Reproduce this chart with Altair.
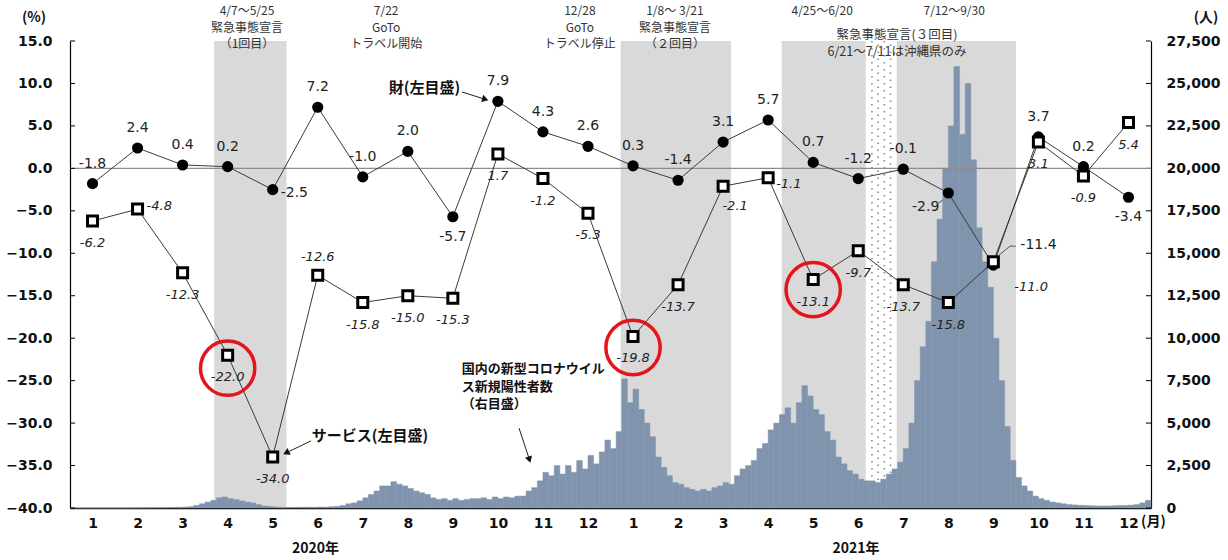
import calendar
import altair as alt
import pandas as pd
import numpy as np

# ---------------- data ----------------
goods = [-1.8, 2.4, 0.4, 0.2, -2.5, 7.2, -1.0, 2.0, -5.7, 7.9, 4.3, 2.6,
         0.3, -1.4, 3.1, 5.7, 0.7, -1.2, -0.1, -2.9, -11.4, 3.7, 0.2, -3.4]
services = [-6.2, -4.8, -12.3, -22.0, -34.0, -12.6, -15.8, -15.0, -15.3, 1.7, -1.2, -5.3,
            -19.8, -13.7, -2.1, -1.1, -13.1, -9.7, -13.7, -15.8, -11.0, 3.1, -0.9, 5.4]

# new positive cases (persons), 8 readings per month
cases_2020 = [
    0, 0, 0, 0, 0, 0, 0, 0,                       # Jan
    0, 0, 0, 5, 5, 10, 15, 20,                    # Feb
    20, 30, 40, 40, 60, 80, 150, 250,             # Mar
    350, 450, 600, 650, 550, 500, 420, 350,       # Apr
    300, 200, 120, 90, 60, 40, 30, 40,            # May
    40, 40, 50, 40, 60, 50, 80, 100,              # Jun
    150, 250, 300, 420, 600, 800, 1000, 1300,     # Jul
    1300, 1550, 1400, 1300, 1150, 1000, 900, 800, # Aug
    600, 500, 550, 450, 550, 450, 500, 550,       # Sep
    550, 600, 500, 650, 550, 650, 600, 700,       # Oct
    700, 1000, 1200, 1600, 2100, 1900, 2500, 2000,   # Nov
    2500, 2100, 2800, 2300, 3100, 2600, 3300, 4000,  # Dec
]
cases_2021 = [
    3500, 4500, 7600, 6200, 7000, 5800, 5000, 4200,        # Jan
    3000, 2400, 1900, 1500, 1400, 1200, 1100, 1000,        # Feb
    1100, 1000, 1200, 1300, 1500, 1400, 1900, 2300,        # Mar
    2500, 2800, 3500, 3800, 4600, 5000, 5500, 5900,        # Apr
    5000, 6200, 7200, 6600, 5800, 5500, 4500, 4000,        # May
    3000, 2600, 2200, 2000, 1700, 1600, 1600, 1500,        # Jun
    1700, 2000, 2300, 2700, 3500, 5000, 7500, 9500,        # Jul
    11000, 14500, 17000, 20000, 22500, 26000, 22000, 25000,  # Aug
    20500, 16500, 14500, 13000, 10000, 7500, 4800, 2800,   # Sep
    1800, 1300, 1000, 700, 550, 450, 350, 300,             # Oct
    250, 200, 180, 160, 150, 130, 120, 120,                # Nov
    120, 130, 150, 150, 170, 200, 300, 450,                # Dec
]

left_ticks = [-40, -35, -30, -25, -20, -15, -10, -5, 0, 5, 10, 15]
right_ticks = [0, 2500, 5000, 7500, 10000, 12500, 15000, 17500, 20000, 22500, 25000, 27500]
years = ["2020年", "2021年"]

emergency_periods = [("2020-04-07", "2020-05-25"), ("2021-01-08", "2021-03-21"),
                     ("2021-04-25", "2021-06-20"), ("2021-07-12", "2021-09-30")]
okinawa_period = ("2021-06-21", "2021-07-11")
highlight_idx = [3, 12, 16]

# ---------------- label placement (style) ----------------
goods_place = ['a', 'a', 'a', 'a', 'r', 'a', 'a', 'a', 'b', 'a', 'a', 'a',
               'a', 'a', 'a', 'a', 'a', 'a', 'a', 'l', 'r2', 'a', 'a', 'b']
serv_place = ['b', 'r', 'b', 'b', 'b', 'a', 'b', 'b', 'b', 'b', 'b', 'b',
              'b', 'b', 'br', 'r1', 'b', 'b', 'b', 'b', 'r3', 'b', 'b', 'b']
goods_style = {
    'a': dict(dx=0, dy=-20, align='center'),
    'b': dict(dx=0, dy=20, align='center'),
    'r': dict(dx=8, dy=3, align='left'),
    'l': dict(dx=-9, dy=14, align='right'),
    'r2': dict(dx=27, dy=-20, align='left'),
}
serv_style = {
    'b': dict(dx=0, dy=22, align='center'),
    'a': dict(dx=0, dy=-18, align='center'),
    'r': dict(dx=9, dy=-3, align='left'),
    'r1': dict(dx=8, dy=6, align='left'),
    'br': dict(dx=12, dy=20, align='center'),
    'r3': dict(dx=21, dy=25, align='left'),
}
circle_off_px = [13, 11, 10]

W, H = 1081, 467
JP = "Noto Sans CJK JP"
NUM = "DejaVu Sans"
BAR = '#8094ae'


def mpos(s, end=False):
    y, m, d = map(int, s.split('-'))
    idx = (y - 2020) * 12 + (m - 1)
    nd = calendar.monthrange(y, m)[1]
    return idx + (d if end else d - 1) / nd


xs = alt.Scale(domain=[0, 24], nice=False, zero=False)
yls = alt.Scale(domain=[-40, 15], nice=False, zero=False)
yrs = alt.Scale(domain=[0, 27500], nice=False, zero=False)

x_axis = alt.Axis(values=[i + 0.5 for i in range(24)], labelExpr="floor(datum.value) % 12 + 1",
                  ticks=False, grid=False, domainColor='black', domainWidth=1.5,
                  labelFont=NUM, labelFontWeight='bold', labelFontSize=14, labelColor='#111',
                  labelPadding=8, labelAngle=0, labelFlush=False, labelOverlap=False, title=None)
left_axis = alt.Axis(orient='left', values=left_ticks, format='.1f', ticks=False, grid=False,
                     domainColor='black', domainWidth=1.2, labelFont=NUM, labelFontWeight='bold',
                     labelFontSize=14, labelColor='#111', labelPadding=18, labelFlush=False, title=None)
right_axis = alt.Axis(orient='right', values=right_ticks, format=',d', ticks=False, grid=False,
                      domainColor='black', domainWidth=1.2, labelFont=NUM, labelFontWeight='bold',
                      labelFontSize=14, labelColor='#111', labelPadding=15, labelFlush=False, title=None)


def X(f):
    return alt.X(f, type='quantitative', scale=xs, axis=x_axis, title=None)


def YL(f):
    return alt.Y(f, type='quantitative', scale=yls, axis=left_axis, title=None)


def YR(f):
    return alt.Y(f, type='quantitative', scale=yrs, axis=right_axis, title=None)


# ---------------- frames ----------------
pts = pd.DataFrame({
    't': [i + 0.5 for i in range(24)],
    'goods': goods, 'services': services,
    'glabel': [f"{v:.1f}" for v in goods], 'slabel': [f"{v:.1f}" for v in services],
    'gpos': goods_place, 'spos': serv_place,
})

all_cases = cases_2020 + cases_2021
bars = pd.DataFrame({
    'x0': [i / 8 for i in range(len(all_cases))],
    'x1': [(i + 1) / 8 for i in range(len(all_cases))],
    'v': all_cases,
    'z': [0] * len(all_cases),
})

shade_df = pd.DataFrame({'a': [mpos(s) for s, e in emergency_periods],
                         'b': [mpos(e, True) for s, e in emergency_periods]})
o0, o1 = mpos(okinawa_period[0]), mpos(okinawa_period[1], True)
dot_cols = pd.DataFrame({'x': np.linspace(o0, o1, 6)[1:-1], 'off': [0, 3.5, 0, 3.5]})

# ---------------- layers ----------------
shade = alt.Chart(shade_df).mark_rect(color='#d9d9d9').encode(
    x=X('a'), x2='b', y=alt.value(0), y2=alt.value(H))

dots = alt.layer(*[
    alt.Chart(dot_cols[dot_cols.off == off]).mark_rule(
        color='#8a8a8a', strokeWidth=1.6, strokeDash=[1.6, 5.4], strokeDashOffset=off
    ).encode(x=X('x'), y=alt.value(0), y2=alt.value(H))
    for off in [0, 3.5]
])

bar_layer = alt.Chart(bars).mark_rect(color=BAR, stroke=BAR, strokeWidth=0.5).encode(
    x=X('x0'), x2='x1', y=YR('v'), y2='z:Q')
rticks = alt.Chart(pd.DataFrame({'v': right_ticks})).mark_rule(color='black', strokeWidth=1).encode(
    y=YR('v'), x=alt.value(W - 5), x2=alt.value(W))
right_group = alt.layer(bar_layer, rticks)

zero = alt.Chart(pd.DataFrame({'v': [0]})).mark_rule(color='#8c8c8c', strokeWidth=1.2).encode(y=YL('v'))
lticks = alt.Chart(pd.DataFrame({'v': left_ticks})).mark_rule(color='black', strokeWidth=1).encode(
    y=YL('v'), x=alt.value(0), x2=alt.value(5))

base = alt.Chart(pts)
gline = base.mark_line(color='#3a3a3a', strokeWidth=1).encode(x=X('t'), y=YL('goods'))
sline = base.mark_line(color='#3a3a3a', strokeWidth=1).encode(x=X('t'), y=YL('services'))
gpts = base.mark_circle(color='black', size=125, opacity=1).encode(x=X('t'), y=YL('goods'))
spts = base.mark_point(shape='square', filled=True, fill='white', stroke='black', strokeWidth=3,
                       size=100, opacity=1).encode(x=X('t'), y=YL('services'))

glabels = [base.transform_filter(alt.datum.gpos == k).mark_text(
    font=NUM, fontSize=14, color='#222', baseline='middle', **st).encode(
    x=X('t'), y=YL('goods'), text='glabel:N') for k, st in goods_style.items()]
slabels = [base.transform_filter(alt.datum.spos == k).mark_text(
    font=NUM, fontSize=13, fontStyle='italic', color='#222', baseline='middle', **st).encode(
    x=X('t'), y=YL('services'), text='slabel:N') for k, st in serv_style.items()]

circ_df = pd.DataFrame({'t': [highlight_idx[i] + 0.5 for i in range(3)],
                        'v': [services[i] for i in highlight_idx], 'off': circle_off_px})
circles = alt.Chart(circ_df).transform_calculate(cy=f"datum.v - datum.off*55/{H}").mark_point(
    shape='circle', filled=False, stroke='#e3151b', strokeWidth=3.5, size=2950, opacity=1).encode(
    x=X('t'), y=YL('cy:Q'))

# arrows (start/end in chart coordinates) and label leaders
arrows = [((8.70, 9.0), (9.22, 8.13), 17),
          ((5.35, -32.1), (4.80, -33.5), 154),
          ((9.97, -30.6), (10.20, -34.3), 72)]
arrow_layers = []
for (x1, y1), (x2, y2), ang in arrows:
    seg = pd.DataFrame({'x': [x1], 'y': [y1], 'x2': [x2], 'y2': [y2]})
    arrow_layers.append(alt.Chart(seg).mark_rule(color='#222', strokeWidth=1).encode(
        x=X('x'), y=YL('y'), x2='x2', y2='y2'))
    arrow_layers.append(alt.Chart(seg).mark_point(shape='triangle-right', filled=True, color='#111',
                                                  size=55, angle=ang, opacity=1).encode(
        x=X('x2'), y=YL('y2')))

leaders = pd.DataFrame({'x': [19.38, 20.60, 20.87], 'y': [-3.72, -10.34, -9.16],
                        'x2': [19.25, 20.87, 21.00], 'y2': [-4.19, -9.16, -9.16]})
leader_layer = alt.Chart(leaders).mark_rule(color='#555', strokeWidth=1).encode(
    x=X('x'), y=YL('y'), x2='x2', y2='y2')

left_group = alt.layer(zero, lticks, gline, sline, gpts, spts, *glabels, *slabels, circles,
                       *arrow_layers, leader_layer)

# ---------------- text annotations (multi-line blocks) ----------------
ann_main = pd.DataFrame([
    ("4/7～5/25\n緊急事態宣言\n（1回目）", 3.93, -35),
    ("7/22\nGoTo\nトラベル開始", 7.02, -35),
    ("12/28\nGoTo\nトラベル停止", 11.32, -35),
    ("1/8～ 3/21\n緊急事態宣言\n（２回目）", 13.43, -35),
    ("4/25～6/20", 16.70, -35),
    ("7/12～9/30", 19.63, -35),
], columns=['text', 'x', 'y'])
ann_layer = alt.Chart(ann_main).mark_text(font=JP, fontSize=12, color='#333', baseline='top',
                                          lineBreak='\n', lineHeight=16.5).encode(
    x=X('x'), y=alt.Y('y:Q', scale=None), text='text:N')

ann_third = pd.DataFrame([("緊急事態宣言(３回目)\n6/21～7/11は沖縄県のみ", 18.36, -12)],
                         columns=['text', 'x', 'y'])
ann_third_layer = alt.Chart(ann_third).mark_text(font=JP, fontSize=12.5, color='#333', baseline='top',
                                                 lineBreak='\n', lineHeight=17).encode(
    x=X('x'), y=alt.Y('y:Q', scale=None), text='text:N')

bold_ann = pd.DataFrame([
    ("財(左目盛)", 8.66, 47, 'right', 15),
    ("サービス(左目盛)", 5.37, 395, 'left', 15),
], columns=['text', 'x', 'y', 'al', 'fs'])
bold_layers = [alt.Chart(bold_ann[bold_ann.al == al]).mark_text(
    font=JP, fontWeight='bold', color='#111', baseline='middle', align=al).encode(
    x=X('x'), y=alt.Y('y:Q', scale=None), text='text:N', size=alt.Size('fs:Q', scale=None, legend=None))
    for al in ['left', 'right']]

covid_note = pd.DataFrame([("国内の新型コロナウイル\nス新規陽性者数\n（右目盛）", 8.70, 322)],
                          columns=['text', 'x', 'y'])
covid_note_layer = alt.Chart(covid_note).mark_text(
    font=JP, fontWeight='bold', fontSize=13, color='#111', baseline='top', align='left',
    lineBreak='\n', lineHeight=17.5).encode(
    x=X('x'), y=alt.Y('y:Q', scale=None), text='text:N')

year_df = pd.DataFrame({'x': [5.45, 17.45], 'text': years})
year_layer = alt.Chart(year_df).mark_text(font=JP, fontWeight='bold', fontSize=14, color='#111',
                                          baseline='middle').encode(
    x=X('x'), y=alt.value(H + 41), text='text:N')

month_unit = alt.Chart(pd.DataFrame({'x': [23.78], 'text': ['(月)']})).mark_text(
    font=JP, fontWeight='bold', fontSize=14, color='#111', baseline='middle', align='left').encode(
    x=X('x'), y=alt.value(H + 14), text='text:N')

unit_df = pd.DataFrame({'text': ['(%)', '(人)'], 'px': [-36, 1136]})
unit_layer = alt.Chart(unit_df).mark_text(font=JP, fontWeight='bold', fontSize=14, color='#111',
                                          baseline='middle').encode(
    x=alt.X('px:Q', scale=None), y=alt.value(-23), text='text:N')

chart = alt.layer(
    shade, dots, right_group, left_group, ann_layer, ann_third_layer, *bold_layers, covid_note_layer,
    year_layer, month_unit, unit_layer
).resolve_scale(y='independent').properties(
    width=W, height=H,
    autosize=alt.AutoSizeParams(type='none'),
    padding={'left': 70, 'top': 41, 'right': 77, 'bottom': 52},
    background='white',
).configure_view(stroke=None)

chart.save("out.html", embed_options={"renderer": "svg", "actions": False})
